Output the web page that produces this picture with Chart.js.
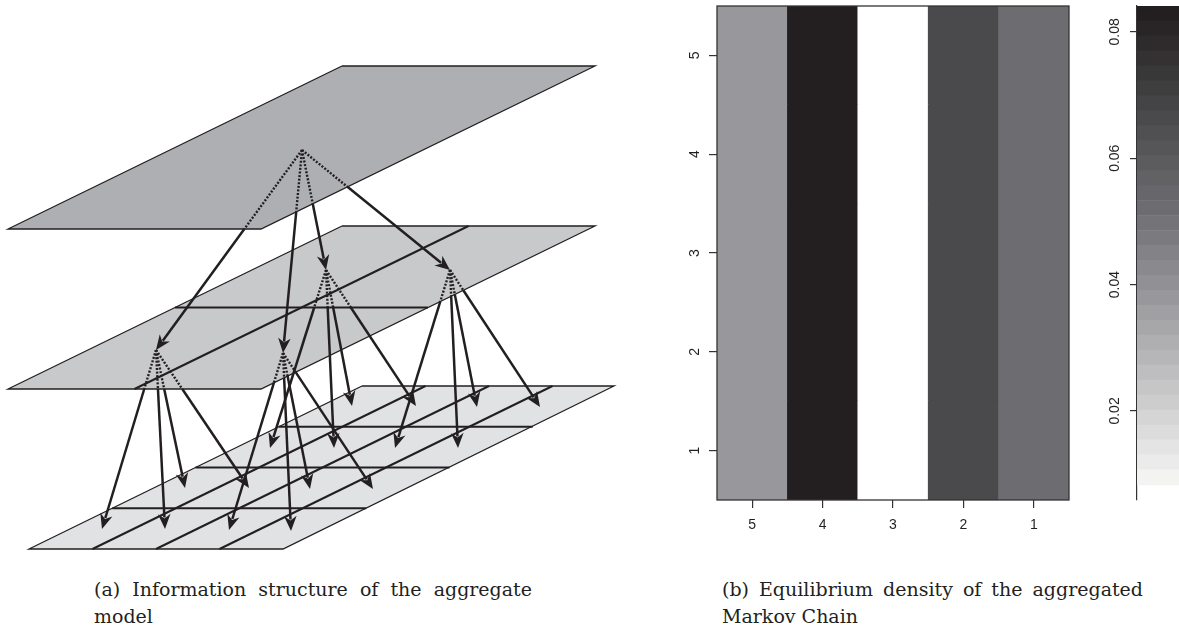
<!DOCTYPE html>
<html><head><meta charset="utf-8">
<script src="https://cdn.jsdelivr.net/npm/chart.js@4/dist/chart.umd.min.js"></script>
<style>
html,body{margin:0;padding:0;background:#fff;width:1179px;height:629px;overflow:hidden;position:relative}
canvas{position:absolute;display:block}
#diag{left:0;top:0}
#heat{left:660px;top:0}
#cbar{left:1100px;top:0}
.cap{position:absolute;font-family:"DejaVu Serif",serif;font-size:19px;line-height:27px;color:#231f20}
.cap .l1{text-align:justify;text-align-last:justify}
#capA{left:94px;top:576px;width:438px}
#capB{left:722px;top:576px;width:421px}
</style></head>
<body>
<canvas id="diag" width="640" height="560"></canvas>
<canvas id="heat" width="430" height="545"></canvas>
<canvas id="cbar" width="79" height="545"></canvas>
<div class="cap" id="capA"><div class="l1">(a) Information structure of the aggregate</div><div>model</div></div>
<div class="cap" id="capB"><div class="l1">(b) Equilibrium density of the aggregated</div><div>Markov Chain</div></div>
<script>
// ---------- (a) diagram data ----------
// plane corners: back-left, back-right, front-right, front-left
const diagPlanes = [
  [[342,66],[595,66],[261,229],[8,229]],
  [[342,226],[595,226],[261,389],[8,389]],
  [[362,386],[614,386],[283,549],[29,549]]
];
const planeDivisions = [1,2,4];
const planeFills = ['#aeafb3','#c8c9cb','#e1e2e4'];
const topNodes = [[302,150]];
const midNodes = [[156,350],[283,353],[326,270],[450,270]];
const midNodeRows = [0,0,1,1];
const bottomTargets = [
  [[102,529],[165,529],[185,488],[249,488]],
  [[229,530],[291,531],[310,489],[373,489]],
  [[270,448],[334,448],[352,406],[416,406]],
  [[395,448],[458,448],[477,407],[540,407]]
];

// ---------- (b) heatmap data ----------
const xCategories = ['5','4','3','2','1'];
const yRows = [1,2,3,4,5];
const density = [
  [0.038,0.084,0.008,0.067,0.052],
  [0.038,0.084,0.008,0.067,0.052],
  [0.038,0.084,0.008,0.067,0.052],
  [0.038,0.084,0.008,0.067,0.052],
  [0.038,0.084,0.008,0.067,0.052]
];
const colorbarTicks = [0.02,0.04,0.06,0.08];
const zRange = [0.0083,0.0841];
const axisRange = [0.0059,0.0841];
const nLevels = 32;
const paletteStops = [
  [0,[243,243,242]],[0.392,[151,151,155]],[0.577,[110,110,114]],[0.774,[74,74,76]],[1,[35,31,32]]
];

const INK = '#231f20';

function paletteAt(t){
  for(let i=1;i<paletteStops.length;i++){
    const [t1,c1]=paletteStops[i], [t0,c0]=paletteStops[i-1];
    if(t<=t1){const f=(t-t0)/(t1-t0);return 'rgb('+c0.map((c,k)=>Math.round(c+(c1[k]-c)*f)).join(',')+')';}
  }
  return 'rgb('+paletteStops[paletteStops.length-1][1].join(',')+')';
}
function levelColor(i){return paletteAt(i/(nLevels-1));}
function colorFor(v){
  if(v<zRange[0]||v>zRange[1]+1e-9) return '#ffffff';
  let i=Math.floor((v-zRange[0])/(zRange[1]-zRange[0])*nLevels);
  if(i>=nLevels) i=nLevels-1;
  return levelColor(i);
}

// ---------- geometry helpers for the diagram ----------
function planePoint(pl,u,v){
  const FL=pl[3],FR=pl[2],BL=pl[0];
  return [FL[0]+u*(FR[0]-FL[0])+v*(BL[0]-FL[0]), FL[1]+u*(FR[1]-FL[1])+v*(BL[1]-FL[1])];
}
function strip(pl,v0,v1){return [planePoint(pl,0,v1),planePoint(pl,1,v1),planePoint(pl,1,v0),planePoint(pl,0,v0)];}
function cross(a,b){return a[0]*b[1]-a[1]*b[0];}
function exitPoint(S,T,poly){
  const d=[T[0]-S[0],T[1]-S[1]];let best=1;
  for(let i=0;i<poly.length;i++){
    const A=poly[i],B=poly[(i+1)%poly.length];
    const e=[B[0]-A[0],B[1]-A[1]];const den=cross(d,e);
    if(Math.abs(den)<1e-9) continue;
    const AS=[A[0]-S[0],A[1]-S[1]];
    const t=cross(AS,e)/den, s=cross(AS,d)/den;
    if(t>1e-6&&t<best&&s>=0&&s<=1) best=t;
  }
  return [S[0]+best*d[0],S[1]+best*d[1]];
}
const pt = p=>({x:p[0],y:p[1]});

const arrows=[];
midNodes.forEach(m=>arrows.push({from:topNodes[0],to:m,occ:strip(diagPlanes[0],0,1)}));
midNodes.forEach((m,i)=>{
  const r=midNodeRows[i];
  bottomTargets[i].forEach(t=>arrows.push({from:m,to:t,occ:strip(diagPlanes[1],r/2,(r+1)/2)}));
});

const HEAD_L=15, HEAD_W=6.3, HEAD_NOTCH=4.5;
const diagSets=[];
diagPlanes.forEach((pl,pi)=>{
  diagSets.push({data:[...pl,pl[0]].map(pt),showLine:true,fill:'shape',backgroundColor:planeFills[pi],
    borderColor:INK,borderWidth:1.3,pointRadius:0,order:100-pi,clip:false});
  const n=planeDivisions[pi];
  for(let k=1;k<n;k++){
    diagSets.push({data:[planePoint(pl,k/n,0),planePoint(pl,k/n,1)].map(pt),showLine:true,borderColor:INK,borderWidth:2,pointRadius:0,order:50,clip:false});
    diagSets.push({data:[planePoint(pl,0,k/n),planePoint(pl,1,k/n)].map(pt),showLine:true,borderColor:INK,borderWidth:2,pointRadius:0,order:50,clip:false});
  }
});
arrows.forEach(a=>{
  const E=exitPoint(a.from,a.to,a.occ);
  const dx=a.to[0]-E[0],dy=a.to[1]-E[1],len=Math.hypot(dx,dy);
  const back=HEAD_L-HEAD_NOTCH+1;
  const lineEnd=[a.to[0]-dx/len*back,a.to[1]-dy/len*back];
  diagSets.push({data:[a.from,E].map(pt),showLine:true,borderColor:INK,borderWidth:2.4,borderDash:[2,1.6],pointRadius:0,order:10,clip:false});
  diagSets.push({data:[E,lineEnd].map(pt),showLine:true,borderColor:INK,borderWidth:2.5,pointRadius:0,order:10,clip:false,arrowTip:a.to,arrowFrom:E});
});

const arrowHeads={id:'arrowHeads',afterDatasetsDraw(chart){
  const ctx=chart.ctx,xs=chart.scales.x,ys=chart.scales.y;
  chart.data.datasets.forEach(ds=>{
    if(!ds.arrowTip) return;
    const tx=xs.getPixelForValue(ds.arrowTip[0]),ty=ys.getPixelForValue(ds.arrowTip[1]);
    const fx=xs.getPixelForValue(ds.arrowFrom[0]),fy=ys.getPixelForValue(ds.arrowFrom[1]);
    const len=Math.hypot(tx-fx,ty-fy),ux=(tx-fx)/len,uy=(ty-fy)/len,nx=-uy,ny=ux;
    ctx.save();ctx.fillStyle=INK;ctx.beginPath();
    ctx.moveTo(tx,ty);
    ctx.lineTo(tx-ux*HEAD_L+nx*HEAD_W,ty-uy*HEAD_L+ny*HEAD_W);
    ctx.lineTo(tx-ux*(HEAD_L-HEAD_NOTCH),ty-uy*(HEAD_L-HEAD_NOTCH));
    ctx.lineTo(tx-ux*HEAD_L-nx*HEAD_W,ty-uy*HEAD_L-ny*HEAD_W);
    ctx.closePath();ctx.fill();ctx.restore();
  });
}};

new Chart(document.getElementById('diag'),{
  type:'scatter',
  data:{datasets:diagSets},
  options:{responsive:false,animation:false,devicePixelRatio:1,
    layout:{padding:0},
    plugins:{legend:{display:false},tooltip:{enabled:false}},
    elements:{line:{tension:0,borderCapStyle:'butt',borderJoinStyle:'miter'}},
    scales:{x:{type:'linear',min:0,max:640,display:false},y:{type:'linear',min:0,max:560,reverse:true,display:false}}
  },
  plugins:[arrowHeads]
});

// ---------- shared plugins for (b) ----------
const frame={id:'frame',afterDatasetsDraw(chart,args,opts){
  if(!opts.on) return;
  const a=chart.chartArea,ctx=chart.ctx;
  ctx.save();ctx.strokeStyle='#333';ctx.lineWidth=1.3;
  ctx.strokeRect(a.left,a.top,a.right-a.left,a.bottom-a.top);ctx.restore();
}};
const rotLabels={id:'rotLabels',afterDraw(chart,args,opts){
  const ys=chart.scales.y,ctx=chart.ctx;
  ctx.save();ctx.fillStyle=INK;ctx.font='14px "Liberation Sans", Arial, sans-serif';
  ctx.textAlign='center';ctx.textBaseline='middle';
  ys.ticks.forEach(t=>{
    const y=ys.getPixelForValue(t.value);
    ctx.save();ctx.translate(chart.chartArea.left-opts.offset,y);ctx.rotate(-Math.PI/2);
    ctx.fillText(opts.fmt?opts.fmt(t.value):String(t.value),0,0);ctx.restore();
  });
  ctx.restore();
}};

// ---------- heatmap ----------
new Chart(document.getElementById('heat'),{
  type:'bar',
  data:{labels:xCategories,datasets:yRows.map((r,ri)=>({
    label:'row '+r,
    data:xCategories.map(()=>[r-0.5,r+0.5]),
    backgroundColor:density[ri].map(colorFor),
    borderWidth:0,categoryPercentage:1,barPercentage:1
  }))},
  options:{responsive:false,animation:false,devicePixelRatio:1,
    layout:{padding:{left:0,right:21,top:6,bottom:0}},
    plugins:{legend:{display:false},tooltip:{enabled:false},frame:{on:true},rotLabels:{offset:22}},
    scales:{
      x:{stacked:true,grid:{offset:false,drawOnChartArea:false,drawTicks:true,tickLength:8,color:'#333',lineWidth:1.2},
        border:{display:false},
        ticks:{color:INK,font:{family:'"Liberation Sans", Arial, sans-serif',size:14},padding:9},
        afterFit(s){s.height=45;}},
      y:{stacked:false,min:0.5,max:5.5,
        afterBuildTicks(s){s.ticks=yRows.map(v=>({value:v}));},
        ticks:{display:false},
        grid:{drawOnChartArea:false,drawTicks:true,tickLength:8,color:'#333',lineWidth:1.2},
        border:{display:false},
        afterFit(s){s.width=57;}}
    }
  },
  plugins:[frame,rotLabels]
});

// ---------- colorbar ----------
const levelSets=[];
for(let i=0;i<nLevels;i++){
  const lo=zRange[0]+(zRange[1]-zRange[0])*i/nLevels, hi=zRange[0]+(zRange[1]-zRange[0])*(i+1)/nLevels;
  levelSets.push({label:'level '+i,data:[[lo,hi]],backgroundColor:levelColor(i),borderWidth:0,categoryPercentage:1,barPercentage:1});
}
new Chart(document.getElementById('cbar'),{
  type:'bar',
  data:{labels:['z'],datasets:levelSets},
  options:{responsive:false,animation:false,devicePixelRatio:1,
    layout:{padding:{left:0,right:0,top:6,bottom:45}},
    plugins:{legend:{display:false},tooltip:{enabled:false},frame:{on:false},rotLabels:{offset:22,fmt:v=>v.toFixed(2)}},
    scales:{
      x:{stacked:true,display:false},
      y:{stacked:false,min:axisRange[0],max:axisRange[1],
        afterBuildTicks(s){s.ticks=colorbarTicks.map(v=>({value:v}));},
        ticks:{display:false},
        grid:{drawOnChartArea:false,drawTicks:true,tickLength:7,color:'#333',lineWidth:1.2},
        border:{display:true,color:'#333',width:1.2},
        afterFit(s){s.width=37;}}
    }
  },
  plugins:[frame,rotLabels]
});
</script>
</body></html>
